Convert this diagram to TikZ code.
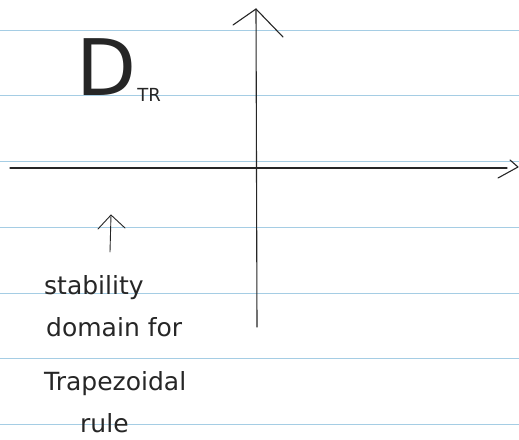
\documentclass[tikz,border=0pt]{standalone}
\usepackage{fontspec}
\setmainfont{DejaVu Sans}
\usetikzlibrary{calc}
\begin{document}
\begin{tikzpicture}[x=1pt,y=-1pt,
  ruled/.style={draw=rulecol,line width=0.9pt},
  pen/.style={draw=black!85,line width=1.1pt,line cap=round,line join=round},
  hand/.style={inner sep=0pt,anchor=base west,font=\fontsize{25}{25}\selectfont,text=black!85}]
\definecolor{rulecol}{RGB}{165,205,228}
\useasboundingbox (0,0) rectangle (519,439);
\fill[white] (0,0) rectangle (519,439);
\foreach \yy in {30,95.5,161,227,293,358.5,424}
  \draw[ruled] (0,\yy) -- (519,\yy);
% axes
\coordinate (xl) at (10,168);
\coordinate (xr) at (507,168);
\coordinate (yb) at (257,327);
\coordinate (yt) at (256,9);
\draw[pen] (xl) -- (xr);
\draw[pen] (yb) -- (yt);
\draw[pen] ($(yt)+(-23,16)$) -- (yt) -- ($(yt)+(27,28)$);
\draw[pen] (510,160) -- (518,167) -- (498,178);
% D_TR
\node[inner sep=0pt,anchor=base west,text=black!85] (dtr) at (76,95)
  {\fontsize{78}{78}\selectfont D\kern1pt\raisebox{-6pt}{\fontsize{18}{18}\selectfont TR}};
% small arrow
\coordinate (ab) at (110,252);
\coordinate (at) at (111,215);
\draw[pen,line width=0.9pt] (ab) -- (at);
\draw[pen,line width=0.9pt] (98,229) -- (at) -- (125,228);
% label
\node[hand] (l1) at (44,294) {stability};
\node[hand] (l2) at (46,336) {domain for};
\node[hand] (l3) at (44,390) {Trapezoidal};
\node[hand] (l4) at (80,432) {rule};
\end{tikzpicture}
\end{document}
